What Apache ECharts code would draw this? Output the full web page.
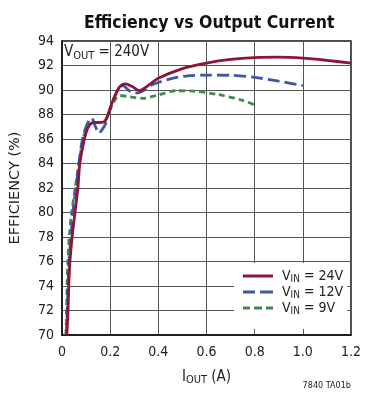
<!DOCTYPE html>
<html>
<head>
<meta charset="utf-8">
<script src="https://cdn.jsdelivr.net/npm/echarts@6/dist/echarts.min.js"></script>
<style>
html,body{margin:0;padding:0;background:#fff;}
#c{width:385px;height:402px;}
</style>
</head>
<body>
<div id="c"></div>
<script>
// ---- data ----
const xTicks = [0, 0.2, 0.4, 0.6, 0.8, 1.0, 1.2];
const yTicks = [70, 72, 74, 76, 78, 80, 82, 84, 86, 88, 90, 92, 94];

const iout24 = [0.020,0.025,0.028,0.033,0.042,0.054,0.066,0.074,0.093,0.105,0.117,0.135,0.165,0.180,0.193,0.213,0.240,0.265,0.290,0.322,0.350,0.400,0.500,0.600,0.700,0.800,0.900,1.000,1.100,1.200];
const eff24  = [70,72,74,76,78,80,82,84,86,86.8,87.2,87.35,87.35,87.5,88.1,89.2,90.27,90.5,90.3,89.95,90.25,90.95,91.75,92.2,92.5,92.65,92.68,92.6,92.42,92.2];

const iout12 = [0.018,0.022,0.025,0.029,0.037,0.045,0.058,0.070,0.085,0.100,0.115,0.124,0.135,0.154,0.168,0.180,0.193,0.213,0.235,0.254,0.275,0.300,0.330,0.377,0.450,0.514,0.600,0.700,0.800,0.900,1.000];
const eff12  = [70,72,74,76,78,80,82,84,86,87.0,87.6,87.7,87.2,86.5,86.8,87.2,88.1,89.2,90.1,90.35,90.0,89.75,89.85,90.45,90.9,91.14,91.22,91.2,91.03,90.72,90.35];

const iout9 = [0.016,0.019,0.021,0.024,0.030,0.040,0.055,0.070,0.088,0.105,0.125,0.160,0.180,0.200,0.220,0.240,0.280,0.336,0.400,0.473,0.550,0.650,0.746,0.800];
const eff9  = [70,72,74,76,78,80,82,84,86,87.0,87.3,87.35,87.5,88.4,89.2,89.55,89.45,89.32,89.6,89.94,89.9,89.62,89.18,88.78];

const seriesNames = ['24V', '12V', '9V'];

const zip = (a, b) => a.map((v, i) => [v, b[i]]);
const FONT = "'Liberation Sans Narrow', 'DejaVu Sans Condensed', 'Liberation Sans', sans-serif";

const solidIcon = 'path://M0,0h30v3h-30z';
const longDashIcon = 'path://M0,0h12v3h-12z M17,0h13v3h-13z';
const shortDashIcon = 'path://M0,0h7v3h-7z M11,0h8v3h-8z M23,0h7v3h-7z';

const chart = echarts.init(document.getElementById('c'));
chart.setOption({
  animation: false,
  backgroundColor: '#fff',
  textStyle: { fontFamily: FONT },
  title: {
    text: 'Efficiency vs Output Current',
    left: 79, top: 9,
    textStyle: { fontFamily: FONT, fontWeight: 'bold', fontSize: 17.5, color: '#111' }
  },
  grid: { left: 58, right: 34, top: 41, bottom: 67, show: true, borderColor: '#111', borderWidth: 1.5, backgroundColor: 'transparent' },
  xAxis: {
    type: 'value', min: 0, max: 1.2, interval: 0.2,
    axisLine: { show: true, onZero: false, lineStyle: { color: '#111', width: 1.5 } },
    axisTick: { show: false },
    splitLine: { show: true, lineStyle: { color: '#555', width: 1 } },
    axisLabel: { color: '#222', fontSize: 14, fontFamily: FONT, margin: 10,
      formatter: v => (v === 0 ? '0' : v.toFixed(1)) },
    name: '{a|I}{b|OUT}{a| (A)}',
    nameLocation: 'middle', nameGap: 33,
    nameTextStyle: { rich: {
      a: { fontSize: 15, color: '#222', fontFamily: FONT },
      b: { fontSize: 11, color: '#222', fontFamily: FONT, padding: [7, 0, 0, 0] }
    } }
  },
  yAxis: {
    type: 'value', min: 70, max: 94, interval: 2,
    axisLine: { show: true, lineStyle: { color: '#111', width: 1.5 } },
    axisTick: { show: false },
    splitLine: { show: true, lineStyle: { color: '#555', width: 1 } },
    axisLabel: { color: '#222', fontSize: 14, fontFamily: FONT, margin: 8 },
    name: 'EFFICIENCY (%)', nameLocation: 'middle', nameGap: 39, nameRotate: 90,
    nameTextStyle: { fontSize: 14.5, color: '#222', fontFamily: "'DejaVu Sans', sans-serif" }
  },
  legend: {
    orient: 'vertical', left: 243, top: 268, itemWidth: 30, itemHeight: 3, itemGap: 0, padding: 0,
    data: [
      { name: '24V', icon: solidIcon },
      { name: '12V', icon: longDashIcon },
      { name: '9V', icon: shortDashIcon }
    ],
    formatter: n => '{v|V}{s|IN}{v| = ' + n + '}',
    itemStyle: { borderWidth: 0 },
    textStyle: { padding: [0, 0, 0, 4], rich: {
      v: { fontSize: 14, color: '#222', fontFamily: FONT, lineHeight: 18 },
      s: { fontSize: 10, color: '#222', fontFamily: FONT, padding: [6, 0, 0, 0], lineHeight: 18 }
    } }
  },
  graphic: [
    { type: 'rect', z: 1, shape: { x: 234, y: 263, width: 113, height: 66 }, style: { fill: '#fff' } },
    { type: 'text', z: 5, left: 64, top: 45, style: {
        text: '{v|V}{s|OUT}{v| = 240V}', fontFamily: FONT,
        rich: {
          v: { fontSize: 15, fill: '#222', fontFamily: FONT },
          s: { fontSize: 11, fill: '#222', fontFamily: FONT, padding: [7, 0, 0, 0] }
        } } },
    { type: 'text', z: 5, right: 34, top: 381, style: { text: '7840 TA01b', fontSize: 9, fill: '#222', fontFamily: FONT } }
  ],
  series: [
    { name: '24V', type: 'line', data: zip(iout24, eff24), smooth: 0.3, symbol: 'none', z: 4,
      lineStyle: { color: '#8c1538', width: 2.8 }, itemStyle: { color: '#8c1538' } },
    { name: '12V', type: 'line', data: zip(iout12, eff12), smooth: 0.3, symbol: 'none', z: 3,
      lineStyle: { color: '#3a58a6', width: 2.8, type: [12, 5] }, itemStyle: { color: '#3a58a6' } },
    { name: '9V', type: 'line', data: zip(iout9, eff9), smooth: 0.3, symbol: 'none', z: 2,
      lineStyle: { color: '#3f8a4c', width: 2.8, type: [6, 4] }, itemStyle: { color: '#3f8a4c' } }
  ]
});
</script>
</body>
</html>
